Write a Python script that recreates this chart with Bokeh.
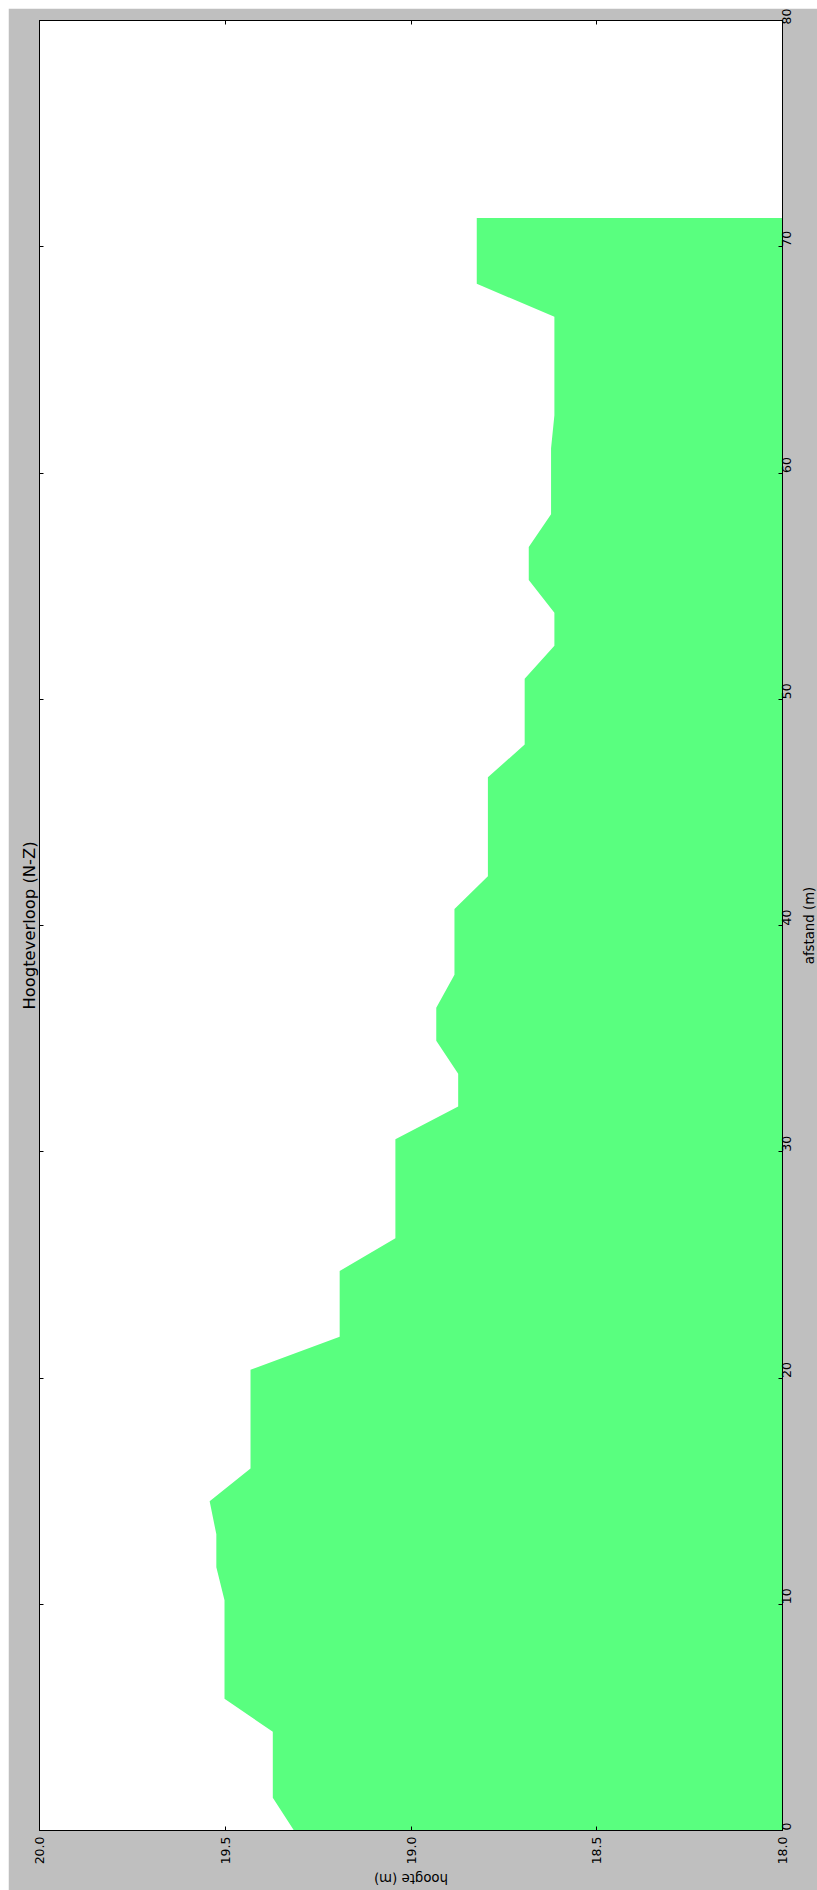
import math
from bokeh.plotting import figure
from bokeh.models import Range1d, LinearAxis, FixedTicker, PrintfTickFormatter, Label, ColumnDataSource
from bokeh.embed import file_html
from bokeh.resources import INLINE

# ---- data ----
afstand = [0.00, 1.45, 2.91, 4.36, 5.82, 7.27, 8.73, 10.18, 11.64, 13.09,
           14.55, 16.00, 17.45, 18.91, 20.36, 21.82, 23.27, 24.73, 26.18, 27.64,
           29.09, 30.55, 32.00, 33.45, 34.91, 36.36, 37.82, 39.27, 40.73, 42.18,
           43.64, 45.09, 46.55, 48.00, 49.45, 50.91, 52.36, 53.82, 55.27, 56.73,
           58.18, 59.64, 61.09, 62.55, 64.00, 65.45, 66.91, 68.36, 69.82, 71.27]
hoogte = [19.315, 19.372, 19.372, 19.372, 19.502, 19.502, 19.502, 19.502, 19.524, 19.524,
          19.542, 19.432, 19.432, 19.432, 19.432, 19.192, 19.192, 19.192, 19.042, 19.042,
          19.042, 19.042, 18.873, 18.873, 18.932, 18.932, 18.883, 18.883, 18.883, 18.793,
          18.793, 18.793, 18.793, 18.694, 18.694, 18.694, 18.614, 18.614, 18.683, 18.683,
          18.623, 18.623, 18.623, 18.614, 18.614, 18.614, 18.614, 18.823, 18.823, 18.823]
basis = 18.0
hoogte_ticks = [18.0, 18.5, 19.0, 19.5, 20.0]
afstand_ticks = [0, 10, 20, 30, 40, 50, 60, 70, 80]
title_text = "Hoogteverloop (N-Z)"
afstand_label = "afstand (m)"
hoogte_label = "hoogte (m)"

FONT = "DejaVu Sans"
GREEN = "#59ff7f"
GREY = "#bfbfbf"

src = ColumnDataSource(data=dict(afstand=afstand, hoogte=hoogte))

p = figure(width=809, height=1882, output_backend="svg", toolbar_location=None,
           x_range=Range1d(20, 18), y_range=Range1d(0, 80),
           x_axis_location="below", y_axis_location="right",
           min_border_left=31, min_border_right=35, min_border_top=12, min_border_bottom=60)
p.margin = (8, 0, 0, 8)
p.grid.visible = False
p.background_fill_color = "white"
p.border_fill_color = GREY
p.outline_line_color = "black"
p.outline_line_width = 1

p.harea(y="afstand", x1=basis, x2="hoogte", source=src, fill_color=GREEN, fill_alpha=1.0)

# extra tick-only axes on left and top (ticks on all four sides)
p.add_layout(LinearAxis(), "left")
p.add_layout(LinearAxis(), "above")

for ax in p.xaxis:
    ax.ticker = FixedTicker(ticks=hoogte_ticks)
    ax.formatter = PrintfTickFormatter(format="%.1f")
for ax in p.yaxis:
    ax.ticker = FixedTicker(ticks=afstand_ticks)
    ax.formatter = PrintfTickFormatter(format="%d")

for ax in p.axis:
    ax.major_tick_in = 4
    ax.major_tick_out = 0
    ax.minor_tick_line_color = None
    ax.axis_line_color = "black"
    ax.major_tick_line_color = "black"
    ax.major_label_text_color = "black"
    ax.major_label_text_font = FONT
    ax.major_label_text_font_size = "12.5px"
    ax.major_label_orientation = math.pi / 2

# tick-only axes: labels not drawn
for ax in (p.left[0], p.above[0]):
    ax.major_label_text_color = None
    ax.major_label_text_font_size = "1px"
    ax.major_label_standoff = 0

p.below[0].major_label_standoff = 6
p.right[0].major_label_standoff = 4
p.right[0].major_label_text_align = "center"

# title: as the label of the left (tick-only) axis, reads bottom-to-top
left_ax = p.left[0]
left_ax.axis_label = title_text
left_ax.axis_label_text_font = FONT
left_ax.axis_label_text_font_size = "16.4px"
left_ax.axis_label_text_font_style = "normal"
left_ax.axis_label_text_color = "black"
left_ax.axis_label_standoff = 1

# axis texts of the rotated chart, placed in side panels (not clipped)
p.add_layout(Label(x=19.0, y=-2.12, x_units="data", y_units="data", text=hoogte_label,
                   angle=math.pi, text_align="center", text_baseline="middle",
                   text_font=FONT, text_font_size="13.3px", text_color="black"), "below")
p.add_layout(Label(x=17.928, y=40, x_units="data", y_units="data", text=afstand_label,
                   angle=math.pi / 2, text_align="center", text_baseline="middle",
                   text_font=FONT, text_font_size="13.3px", text_color="black"), "right")

open("out.html", "w").write(file_html(p, INLINE))
